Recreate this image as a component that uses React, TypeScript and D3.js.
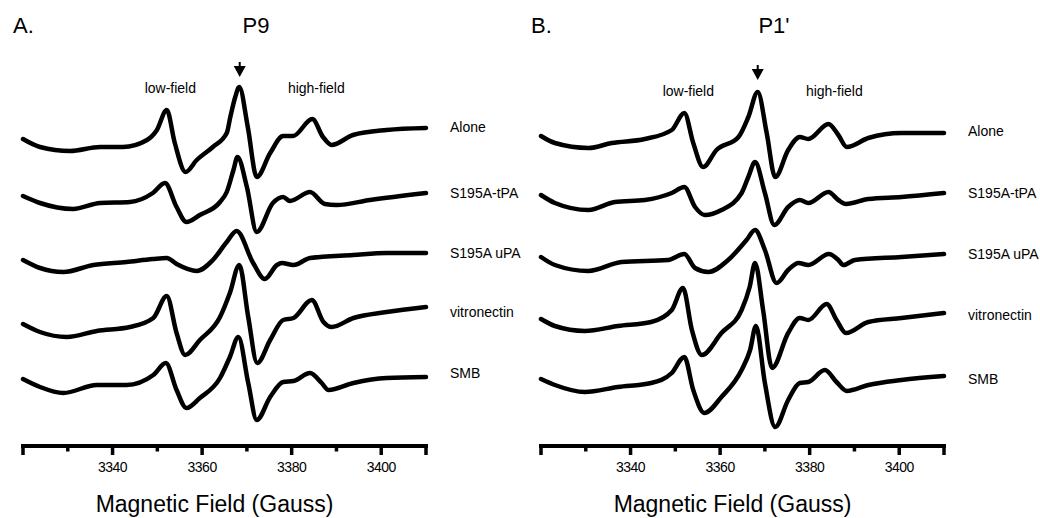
import React from 'react'
import * as d3 from 'd3'

type Pt = [number, number]

// sample names, top to bottom
const sampleNames = ['Alone', 'S195A-tPA', 'S195A uPA', 'vitronectin', 'SMB']

// Panel A (P9) spectra: [field (G), signal]
const p9Alone: Pt[] = [
  [3320, -12], [3323.8, -20], [3330.5, -24], [3337.2, -20], [3342.3, -20], [3347.7, -13],
  [3349.9, -3], [3352.1, 17], [3353.9, -16], [3356.3, -45], [3358.8, -33], [3362.4, -20],
  [3365.5, -6], [3366.3, 10], [3367.4, 30], [3368.3, 40], [3370.2, 0], [3372.2, -50],
  [3375.2, -26], [3378.1, -9], [3380.3, -9], [3384.6, 8], [3387, -10], [3388.9, -18],
  [3393.7, -8], [3401.2, -3], [3410, -1]
]
const p9Tpa: Pt[] = [
  [3320, -3], [3323.8, -10], [3331.2, -16], [3337.2, -10], [3343.9, -9], [3349, 0],
  [3351.7, 10], [3354.3, -14], [3356.5, -29], [3359.5, -22], [3364, -9], [3365.5, 1],
  [3367, 23], [3367.9, 36], [3370, 6], [3372.2, -39], [3375.8, -10], [3378.1, -4],
  [3379.6, -8], [3384.1, 1], [3387.4, -11], [3390, -12], [3397.5, -7], [3410, 0]
]
const p9Upa: Pt[] = [
  [3320, -7], [3323.8, -15], [3329, -19], [3335.7, -12], [3343.1, -9], [3349, -6],
  [3352.1, -5], [3354.3, -11], [3358.8, -18], [3362.4, -7], [3365.5, 11], [3367.7, 22],
  [3371.4, -10], [3374, -26], [3376.7, -12], [3377.8, -10], [3380.4, -12], [3384.1, -5],
  [3393.7, -2], [3401.2, 0], [3410, 0]
]
const p9Vit: Pt[] = [
  [3320, -12], [3323.8, -20], [3329.8, -25], [3336.5, -19], [3343.9, -15], [3349.1, -6],
  [3352.1, 16], [3354.3, -21], [3356.2, -43], [3359.5, -28], [3364, -5], [3366.2, 19],
  [3368.3, 47], [3370.3, -5], [3372.3, -51], [3375.2, -28], [3378.1, -8], [3380.4, -6],
  [3384.5, 12], [3387.1, -10], [3388.9, -15], [3393.8, -6], [3401.2, 0], [3410, 5]
]
const p9Smb: Pt[] = [
  [3320, -6], [3323.8, -14], [3329, -20], [3336.5, -12], [3343.1, -12], [3349.1, -2],
  [3351.9, 10], [3354.3, -17], [3356.5, -35], [3359.5, -25], [3364, -5], [3366.2, 16],
  [3368.1, 36], [3370.3, -10], [3372.2, -47], [3375.2, -24], [3378.1, -9], [3380.4, -8],
  [3384.1, 0], [3386.7, -10], [3388.2, -17], [3393.8, -10], [3401.2, -5], [3410, -4]
]

// Panel B (P1') spectra
const p1Alone: Pt[] = [
  [3320, -5], [3323.1, -12], [3330.6, -17], [3335.8, -12], [3343.2, -8], [3349.2, 1],
  [3352, 18], [3354, -12], [3356.2, -36], [3359.2, -19], [3364.1, -6], [3366.3, 14],
  [3368.4, 39], [3370.4, -2], [3372.3, -46], [3375.2, -19], [3377.8, -6], [3379.7, -8],
  [3384.2, 7], [3386.4, -4], [3388.3, -16], [3393.1, -7], [3400.5, -2], [3410, -2]
]
const p1Tpa: Pt[] = [
  [3320, -2], [3323.1, -10], [3330.6, -17], [3336.5, -9], [3343.2, -7], [3349.2, 0],
  [3352, 6], [3354.4, -14], [3356.6, -22], [3360.3, -17], [3364.8, 0], [3366.3, 16],
  [3367.8, 31], [3370, 0], [3372.1, -32], [3375.2, -14], [3377.8, -7], [3379.7, -10],
  [3384.2, 1], [3386.4, -7], [3388.1, -11], [3393.1, -6], [3400.5, -4], [3410, 0]
]
const p1Upa: Pt[] = [
  [3320, -3], [3323.1, -11], [3330.6, -17], [3338, -8], [3348.4, -6], [3352, 0],
  [3354.4, -14], [3357.4, -18], [3361.8, -6], [3365.9, 14], [3367.8, 24], [3370, 4],
  [3372.6, -29], [3375.2, -16], [3377.5, -9], [3379.7, -11], [3384.3, 0], [3386.4, -6],
  [3387.5, -11], [3390.1, -6], [3400.5, -3], [3410, 0]
]
const p1Vit: Pt[] = [
  [3320, -4], [3323.1, -11], [3329.8, -16], [3337.2, -11], [3344.6, -7], [3349.2, 5],
  [3351.7, 27], [3353.7, -15], [3355.9, -40], [3360.3, -18], [3364.8, 5], [3366.6, 28],
  [3367.8, 52], [3369.6, 5], [3371.6, -53], [3375.2, -18], [3377.8, -3], [3379.7, -5],
  [3383.8, 11], [3386, -5], [3388.1, -18], [3393.1, -7], [3400.5, -3], [3410, 2]
]
const p1Smb: Pt[] = [
  [3320, 0], [3323.1, -6], [3329.8, -13], [3337.2, -8], [3344.6, -4], [3349.2, 6],
  [3352, 22], [3354, -11], [3356.5, -34], [3360.3, -18], [3364.8, 9], [3366.7, 29],
  [3368, 53], [3370, -4], [3372.3, -48], [3375.2, -21], [3377.8, -4], [3379.7, -3],
  [3383.4, 9], [3386, -3], [3388.3, -12], [3393.1, -6], [3400.5, -1], [3410, 3]
]

// vertical stacking of the traces
const p9Offsets = [319, 253, 193, 134, 73]
const p1Offsets = [315, 253, 192, 131, 67]

const longTicks = [3320, 3340, 3360, 3380, 3400, 3410]
const shortTicks = [3330, 3350, 3370, 3390]
const tickLabels = [3340, 3360, 3380, 3400]
const arrowField = 3368.4

const font = '"Liberation Sans", Arial, Helvetica, sans-serif'

function Panel({ left, letter, title, traces, offsets, top }: {
  left: number, letter: string, title: string, traces: Pt[][], offsets: number[], top: number
}) {
  const x = d3.scaleLinear().domain([3320, 3410]).range([left, left + 403])
  const y = d3.scaleLinear().domain([0, 400]).range([446, 46])
  const line = d3.line<Pt>().x(d => x(d[0])).y(d => y(d[1])).curve(d3.curveMonotoneX)
  const axisY = y(0)
  const ax = x(arrowField)
  const mid = x(3365)

  return (
    <g fontFamily={font} fill="#000">
      <text x={left - 10} y={33} fontSize={22}>{letter}</text>
      <text x={left + 233} y={33} fontSize={22} textAnchor="middle">{title}</text>

      {/* arrow to the central line */}
      <line x1={ax} x2={ax} y1={62 + top} y2={68 + top} stroke="#000" strokeWidth={2} />
      <path d={`M${ax - 6},${66 + top} L${ax + 6},${66 + top} L${ax},${77 + top} Z`} />
      <text x={x(3352.9)} y={93 + top} fontSize={14} textAnchor="middle">low-field</text>
      <text x={x(3385.5)} y={93 + top} fontSize={14} textAnchor="middle">high-field</text>

      {traces.map((t, i) => (
        <g key={i}>
          <path
            d={line(t.map(d => [d[0], d[1] + offsets[i]] as Pt)) || ''}
            fill="none" stroke="#000" strokeWidth={4.5}
            strokeLinejoin="round" strokeLinecap="round"
          />
          <text x={x(3410) + 24} y={y(offsets[i])} fontSize={14} dominantBaseline="central">
            {sampleNames[i]}
          </text>
        </g>
      ))}

      {/* x axis */}
      <line x1={x(3320) - 2} x2={x(3410) + 2} y1={axisY} y2={axisY} stroke="#000" strokeWidth={4} />
      {longTicks.map(v => (
        <line key={v} x1={x(v)} x2={x(v)} y1={axisY} y2={axisY + 9} stroke="#000" strokeWidth={3.5} />
      ))}
      {shortTicks.map(v => (
        <line key={v} x1={x(v)} x2={x(v)} y1={axisY} y2={axisY + 5.5} stroke="#000" strokeWidth={3.5} />
      ))}
      {tickLabels.map(v => (
        <text key={v} x={x(v)} y={472} fontSize={14} textAnchor="middle" letterSpacing={-0.5}>{v}</text>
      ))}
      <text x={mid - 10} y={512} fontSize={23} textAnchor="middle">Magnetic Field (Gauss)</text>
    </g>
  )
}

export default function App() {
  return (
    <svg width={1040} height={518} style={{ position: 'absolute', left: 0, top: 0, background: '#fff' }}>
      <rect width={1040} height={518} fill="#fff" />
      <Panel left={23} top={0} letter="A." title="P9"
        traces={[p9Alone, p9Tpa, p9Upa, p9Vit, p9Smb]} offsets={p9Offsets} />
      <Panel left={541} top={3} letter="B." title="P1'"
        traces={[p1Alone, p1Tpa, p1Upa, p1Vit, p1Smb]} offsets={p1Offsets} />
    </svg>
  )
}
